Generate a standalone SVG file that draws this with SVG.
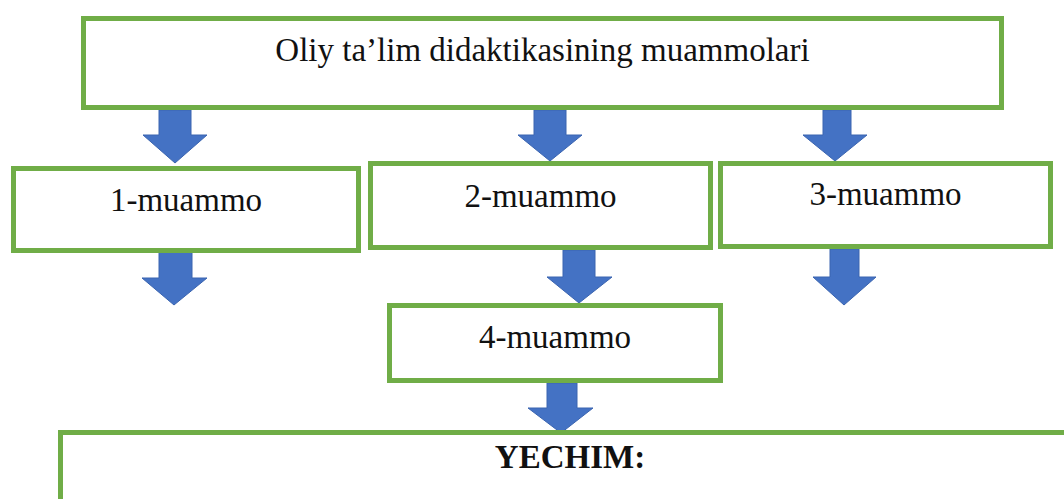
<svg xmlns="http://www.w3.org/2000/svg" width="1064" height="499" viewBox="0 0 1064 499">
<style>
.box{fill:#ffffff;stroke:#70AD47;stroke-width:5}
.lbl{font-family:'Liberation Serif','Tinos','Times New Roman','Times','DejaVu Serif',serif;font-size:33px;fill:#111111;text-anchor:middle}
.bold{font-weight:bold}
.arr{fill:#4472C4;stroke:#3A64B0;stroke-width:1}
</style>
<rect width="1064" height="499" fill="#ffffff"/>
<g id="connectors">
<polygon class="arr" points="159,110 191,110 191,135 207,135 175,163 143,135 159,135"/>
<polygon class="arr" points="534,110 566,110 566,135 582,135 550,161 518,135 534,135"/>
<polygon class="arr" points="823,110 851,110 851,135 867,135 835,161 803,135 823,135"/>
<polygon class="arr" points="159,251 192,251 192,278 207,278 174,305 142,278 159,278"/>
<polygon class="arr" points="563,250 595,250 595,277 612,277 579,303 547,277 563,277"/>
<polygon class="arr" points="830,249 859,249 859,277 876,277 844,305 813,277 830,277"/>
<polygon class="arr" points="547,383 577,383 577,408 593,408 561,433 528,408 547,408"/>
</g>
<g id="top">
<rect class="box" x="83.5" y="18.5" width="918" height="89"/>
<text class="lbl" x="542.5" y="61">Oliy ta’lim didaktikasining muammolari</text>
</g>
<g id="m1">
<rect class="box" x="13.5" y="168.5" width="345" height="82"/>
<text class="lbl" x="186" y="211">1-muammo</text>
</g>
<g id="m2">
<rect class="box" x="370.5" y="163.5" width="340" height="84"/>
<text class="lbl" x="540.5" y="207">2-muammo</text>
</g>
<g id="m3">
<rect class="box" x="720.5" y="163.5" width="330" height="83"/>
<text class="lbl" x="885.5" y="205">3-muammo</text>
</g>
<g id="m4">
<rect class="box" x="389.5" y="305.5" width="331" height="75"/>
<text class="lbl" x="555" y="348">4-muammo</text>
</g>
<g id="yechim">
<rect class="box" x="60.5" y="432.5" width="1020" height="100"/>
<text class="lbl bold" x="570" y="468">YECHIM:</text>
</g>
</svg>
